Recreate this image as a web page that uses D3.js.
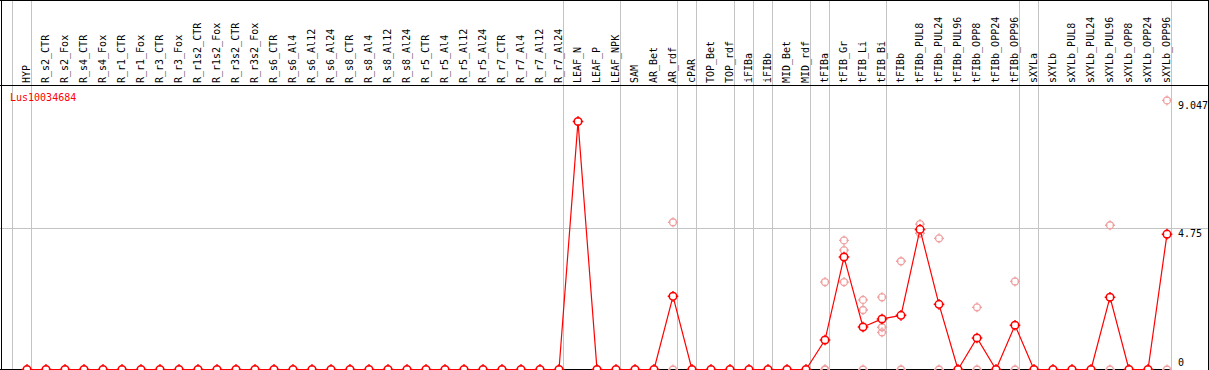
<!DOCTYPE html>
<html lang="en">
<head>
    <meta charset="UTF-8">
    <title>Lus10034684</title>
    <script src="https://d3js.org/d3.v7.min.js"></script>
    <style>
        html, body { margin: 0; padding: 0; background: #fff; }
        svg { display: block; font-family: "DejaVu Sans Mono", monospace; font-size: 10px; }
        .grid { stroke: #c4c4c4; stroke-width: 1px; shape-rendering: crispEdges; }
        .frame { stroke: #000; stroke-width: 1px; shape-rendering: crispEdges; }
    </style>
</head>
<body>
    <div id="chart"></div>
    <script>
        const geneName = "Lus10034684";

        const samples = [
            "HYP",
            "R_s2_CTR", "R_s2_Fox", "R_s4_CTR", "R_s4_Fox", "R_r1_CTR", "R_r1_Fox",
            "R_r3_CTR", "R_r3_Fox", "R_r1s2_CTR", "R_r1s2_Fox", "R_r3s2_CTR", "R_r3s2_Fox",
            "R_s6_CTR", "R_s6_Al4", "R_s6_Al12", "R_s6_Al24",
            "R_s8_CTR", "R_s8_Al4", "R_s8_Al12", "R_s8_Al24",
            "R_r5_CTR", "R_r5_Al4", "R_r5_Al12", "R_r5_Al24",
            "R_r7_CTR", "R_r7_Al4", "R_r7_Al12", "R_r7_Al24",
            "LEAF_N", "LEAF_P", "LEAF_NPK",
            "SAM", "AR_Bet", "AR_rdf", "cPAR", "TOP_Bet", "TOP_rdf",
            "iFIBa", "iFIBb", "MID_Bet", "MID_rdf",
            "tFIBa", "tFIB_Gr", "tFIB_Li", "tFIB_Bi",
            "tFIBb", "tFIBb_PUL8", "tFIBb_PUL24", "tFIBb_PUL96", "tFIBb_OPP8", "tFIBb_OPP24", "tFIBb_OPP96",
            "sXYLa", "sXYLb", "sXYLb_PUL8", "sXYLb_PUL24", "sXYLb_PUL96", "sXYLb_OPP8", "sXYLb_OPP24", "sXYLb_OPP96"
        ];

        // last sample of each group (a grey separator follows it)
        const groupEnds = ["HYP", "R_r7_Al24", "LEAF_NPK", "AR_rdf", "cPAR", "TOP_rdf", "iFIBa", "iFIBb",
            "MID_rdf", "tFIBa", "tFIB_Bi", "tFIBb_OPP96", "sXYLa", "sXYLb_OPP96"];

        // mean expression per sample
        const means = [
            0,
            0, 0, 0, 0, 0, 0, 0, 0, 0, 0, 0, 0,
            0, 0, 0, 0, 0, 0, 0, 0, 0, 0, 0, 0, 0, 0, 0, 0,
            8.34, 0, 0,
            0, 0, 2.46, 0, 0, 0,
            0, 0, 0, 0,
            0.99, 3.78, 1.43, 1.70,
            1.82, 4.71, 2.19, 0, 1.06, 0, 1.49,
            0, 0, 0, 0, 2.43, 0, 0, 4.55
        ];

        // individual replicates per sample
        const replicates = [
            [0, 0],
            [0, 0], [0, 0], [0, 0], [0, 0], [0, 0], [0, 0], [0, 0], [0, 0], [0, 0], [0, 0], [0, 0], [0, 0],
            [0, 0], [0, 0], [0, 0], [0, 0], [0, 0], [0, 0], [0, 0], [0, 0], [0, 0], [0, 0], [0, 0], [0, 0],
            [0, 0], [0, 0], [0, 0], [0, 0],
            [8.34], [0, 0], [0, 0],
            [0, 0], [0, 0], [4.95, 0], [0, 0], [0, 0], [0, 0],
            [0, 0], [0, 0], [0, 0], [0, 0],
            [2.94, 0, 0], [4.34, 4.01, 2.94], [2.34, 2.00, 0], [2.43, 1.42, 1.25],
            [3.64, 0], [4.89, 4.58], [4.41, 0], [0, 0], [2.09, 0], [0, 0], [2.96, 0],
            [0, 0], [0, 0], [0, 0], [0, 0], [4.85, 0], [0, 0], [0, 0], [9.047, 0]
        ];

        const yTicks = [0, 4.75, 9.047];
        const yTickLabels = ["0", "4.75", "9.047"];

        const width = 1209, height = 370;
        const headerBottom = 85;

        const svg = d3.select("#chart").append("svg")
            .attr("width", width)
            .attr("height", height);

        const x = d3.scalePoint().domain(samples).range([27, 1167]);
        const step = x.step();
        const y = d3.scaleLinear().domain([0, 9.047]).range([369.5, 100.4]);

        // grey separators between sample groups
        const sepX = [x(samples[0]) - step + 3.5].concat(groupEnds.map(s => x(s) + 3.5));
        svg.selectAll("line.sep")
            .data(sepX)
            .enter().append("line")
            .attr("class", "grid sep")
            .attr("x1", d => Math.round(d) + 0.5)
            .attr("x2", d => Math.round(d) + 0.5)
            .attr("y1", 0)
            .attr("y2", height);

        // horizontal grid at middle tick
        svg.append("line")
            .attr("class", "grid")
            .attr("x1", 0).attr("x2", width)
            .attr("y1", Math.round(y(4.75)) + 0.5)
            .attr("y2", Math.round(y(4.75)) + 0.5);

        // frame
        svg.append("line").attr("class", "frame").attr("x1", 0).attr("x2", width).attr("y1", 0.5).attr("y2", 0.5);
        svg.append("line").attr("class", "frame").attr("x1", 0).attr("x2", width)
            .attr("y1", headerBottom + 0.5).attr("y2", headerBottom + 0.5);
        svg.append("line").attr("class", "frame").attr("x1", 0).attr("x2", 1170)
            .attr("y1", 369.5).attr("y2", 369.5);
        svg.append("line").attr("class", "frame").attr("x1", 1.5).attr("x2", 1.5).attr("y1", 0).attr("y2", height);
        svg.append("line").attr("class", "frame").attr("x1", 1208.5).attr("x2", 1208.5).attr("y1", 0).attr("y2", height);

        // sample labels (vertical)
        svg.append("g").selectAll("text")
            .data(samples)
            .enter().append("text")
            .attr("transform", d => "translate(" + (x(d) + 3) + "," + (headerBottom - 2) + ") rotate(-90)")
            .attr("fill", "#000")
            .text(d => d);

        // y tick labels on right
        svg.append("g").selectAll("text")
            .data(yTicks)
            .enter().append("text")
            .attr("x", 1178)
            .attr("y", d => Math.min(y(d) + 8.5, 366))
            .attr("fill", "#000")
            .text((d, i) => yTickLabels[i]);

        // gene name
        svg.append("text")
            .attr("x", 10)
            .attr("y", 101)
            .attr("fill", "#ff0000")
            .text(geneName);

        // marker: circle with four small ticks
        function marker(r) {
            const t = r + 1.5;
            return d3.path().toString() +
                "M" + r + ",0A" + r + "," + r + " 0 1,1 " + (-r) + ",0A" + r + "," + r + " 0 1,1 " + r + ",0" +
                "M0," + (-t) + "L0," + (-r + 1) +
                "M0," + t + "L0," + (r - 1) +
                "M" + (-t) + ",0L" + (-r + 1) + ",0" +
                "M" + t + ",0L" + (r - 1) + ",0";
        }

        // replicate points
        const repPoints = [];
        replicates.forEach((vals, i) => vals.forEach(v => repPoints.push({ s: samples[i], v: v })));
        svg.append("g").selectAll("path")
            .data(repPoints)
            .enter().append("path")
            .attr("transform", d => "translate(" + x(d.s) + "," + y(d.v) + ")")
            .attr("d", marker(3.5))
            .attr("fill", "none")
            .attr("stroke", "#f0a0a0")
            .attr("stroke-width", 1.3);

        // mean line
        const line = d3.line()
            .x((d, i) => x(samples[i]))
            .y(d => y(d));
        svg.append("path")
            .datum(means)
            .attr("d", line)
            .attr("fill", "none")
            .attr("stroke", "#ff0000")
            .attr("stroke-width", 1.2);

        // mean points
        svg.append("g").selectAll("path")
            .data(means)
            .enter().append("path")
            .attr("transform", (d, i) => "translate(" + x(samples[i]) + "," + y(d) + ")")
            .attr("d", marker(3.8))
            .attr("fill", "#fff")
            .attr("stroke", "#ff0000")
            .attr("stroke-width", 1.5);
    </script>
</body>
</html>
